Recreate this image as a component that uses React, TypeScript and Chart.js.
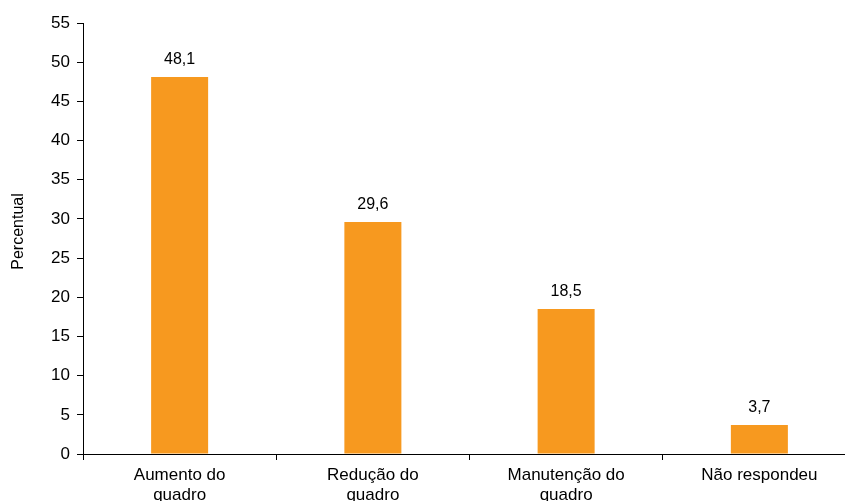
import React, { useEffect, useRef } from 'react';
import { Chart, registerables } from 'chart.js';

Chart.register(...registerables);

const categories: string[][] = [
  ['Aumento do', 'quadro'],
  ['Redução do', 'quadro'],
  ['Manutenção do', 'quadro'],
  ['Não respondeu'],
];
const values: number[] = [48.1, 29.6, 18.5, 3.7];
const valueLabels: string[] = ['48,1', '29,6', '18,5', '3,7'];
const yMin = 0;
const yMax = 55;
const yStep = 5;
const yTitle = 'Percentual';

const FONT = 'Liberation Sans, Arial, sans-serif';
const BAR_COLOR = '#F7991F';

const labelPlugin = {
  id: 'valueLabels',
  afterDatasetsDraw(chart: any) {
    const ctx = chart.ctx;
    const meta = chart.getDatasetMeta(0);
    ctx.save();
    ctx.font = `16px ${FONT}`;
    ctx.fillStyle = '#000';
    ctx.textAlign = 'center';
    ctx.textBaseline = 'alphabetic';
    meta.data.forEach((el: any, i: number) => {
      ctx.fillText(valueLabels[i], el.x, el.y - 13);
    });
    // y-axis title
    const area = chart.chartArea;
    ctx.translate(18.5, (area.top + area.bottom) / 2 - 7);
    ctx.rotate(-Math.PI / 2);
    ctx.textBaseline = 'middle';
    ctx.fillText(yTitle, 0, 0);
    ctx.restore();
  },
};

export default function App() {
  const ref = useRef<HTMLCanvasElement>(null);
  useEffect(() => {
    if (!ref.current) return;
    const chart = new Chart(ref.current, {
      type: 'bar',
      data: {
        labels: categories,
        datasets: [
          {
            data: values,
            backgroundColor: BAR_COLOR,
            borderWidth: 0,
            barPercentage: 0.295,
            categoryPercentage: 1,
          },
        ],
      },
      options: {
        responsive: false,
        animation: false,
        devicePixelRatio: 1,
        layout: { padding: { top: 23, right: 14, bottom: 0, left: 0 } },
        plugins: {
          legend: { display: false },
          tooltip: { enabled: false },
        },
        scales: {
          x: {
            grid: {
              display: true,
              offset: true,
              drawOnChartArea: false,
              drawTicks: true,
              tickLength: 6,
              color: '#000',
              lineWidth: 1,
            },
            border: { display: true, color: '#000', width: 1 },
            ticks: {
              color: '#000',
              font: { family: FONT, size: 17, lineHeight: 1.2 },
              padding: 5,
              maxRotation: 0,
              autoSkip: false,
            },
            afterFit: (scale: any) => {
              scale.height = 66;
            },
          },
          y: {
            min: yMin,
            max: yMax,
            grid: {
              display: true,
              drawOnChartArea: false,
              drawTicks: true,
              tickLength: 6,
              color: '#000',
              lineWidth: 1,
            },
            border: { display: true, color: '#000', width: 1 },
            ticks: {
              stepSize: yStep,
              color: '#000',
              font: { family: FONT, size: 17 },
              padding: 7,
            },
            title: { display: false },
            afterFit: (scale: any) => {
              scale.width = 83;
            },
          },
        },
      },
      plugins: [labelPlugin],
    });
    return () => chart.destroy();
  }, []);
  return (
    <div
      style={{
        position: 'fixed',
        left: 0,
        top: 0,
        width: 845,
        height: 501,
        overflow: 'hidden',
        background: '#fff',
      }}
    >
      <canvas
        ref={ref}
        width={870}
        height={520}
        style={{ position: 'absolute', left: 0, top: 0, width: 870, height: 520 }}
      />
    </div>
  );
}
